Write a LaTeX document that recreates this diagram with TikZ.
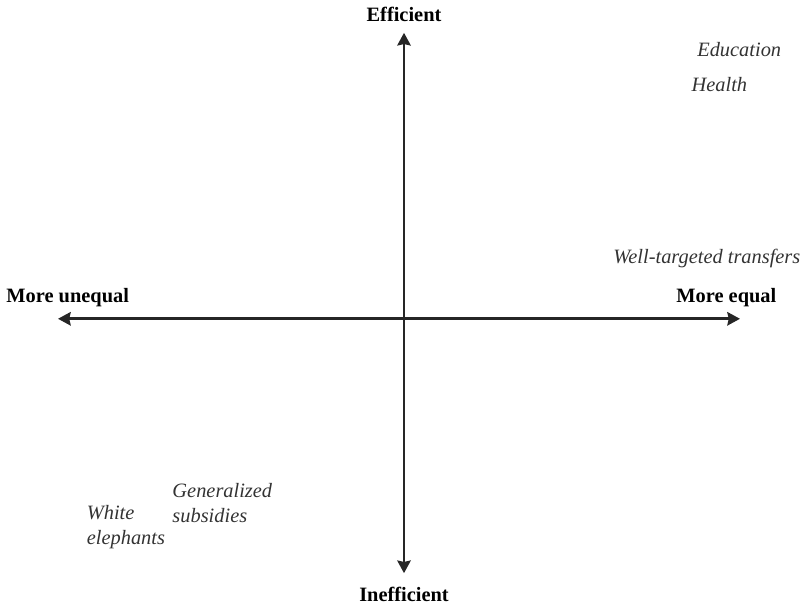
\documentclass[tikz,border=0pt]{standalone}
\usepackage{fontspec}
\setmainfont{Liberation Serif}
\usepackage{tikz}
\usetikzlibrary{arrows.meta, positioning}
\colorlet{axisgray}{black!85}
\colorlet{textgray}{black!80}

\begin{document}
\begin{tikzpicture}[>={Stealth[length=9pt, width=9.5pt, inset=1pt]},
    axislabel/.style={font=\fontsize{14.5}{17}\selectfont\bfseries, text=black, inner sep=1pt},
    itemlabel/.style={font=\fontsize{14.5}{17.5}\selectfont\itshape, text=textgray, inner sep=1pt, align=left}]
    \useasboundingbox (0, 0) rectangle (20.125, 15.15);

    % Axis end points
    \coordinate (top) at (10.1, 14.33);
    \coordinate (bottom) at (10.1, 0.82);
    \coordinate (left) at (1.45, 7.18);
    \coordinate (right) at (18.5, 7.18);

    % The two axes
    \draw[<->, line width=1.9pt, draw=axisgray] (bottom) -- (top);
    \draw[<->, line width=1.9pt, draw=axisgray] (left) -- (right);

    % Axis labels
    \node[axislabel] (efficient) at (10.1, 14.78) {Efficient};
    \node[axislabel] (inefficient) at (10.1, 0.28) {Inefficient};
    \node[axislabel, anchor=west] (unequal) at (0.12, 7.72) {More unequal};
    \node[axislabel, anchor=east] (equal) at (19.45, 7.72) {More equal};

    % Spending items placed in the quadrants
    \node[itemlabel, anchor=east] (education) at (19.57, 13.9) {Education};
    \node[itemlabel, anchor=west] (health) at (17.25, 13.03) {Health};
    \node[itemlabel, anchor=east] (transfers) at (20.05, 8.7) {Well-targeted transfers};
    \node[itemlabel, anchor=west] (subsidies) at (4.27, 2.58) {Generalized\\subsidies};
    \node[itemlabel, anchor=west] (elephants) at (2.13, 1.98) {White\\elephants};
\end{tikzpicture}
\end{document}
